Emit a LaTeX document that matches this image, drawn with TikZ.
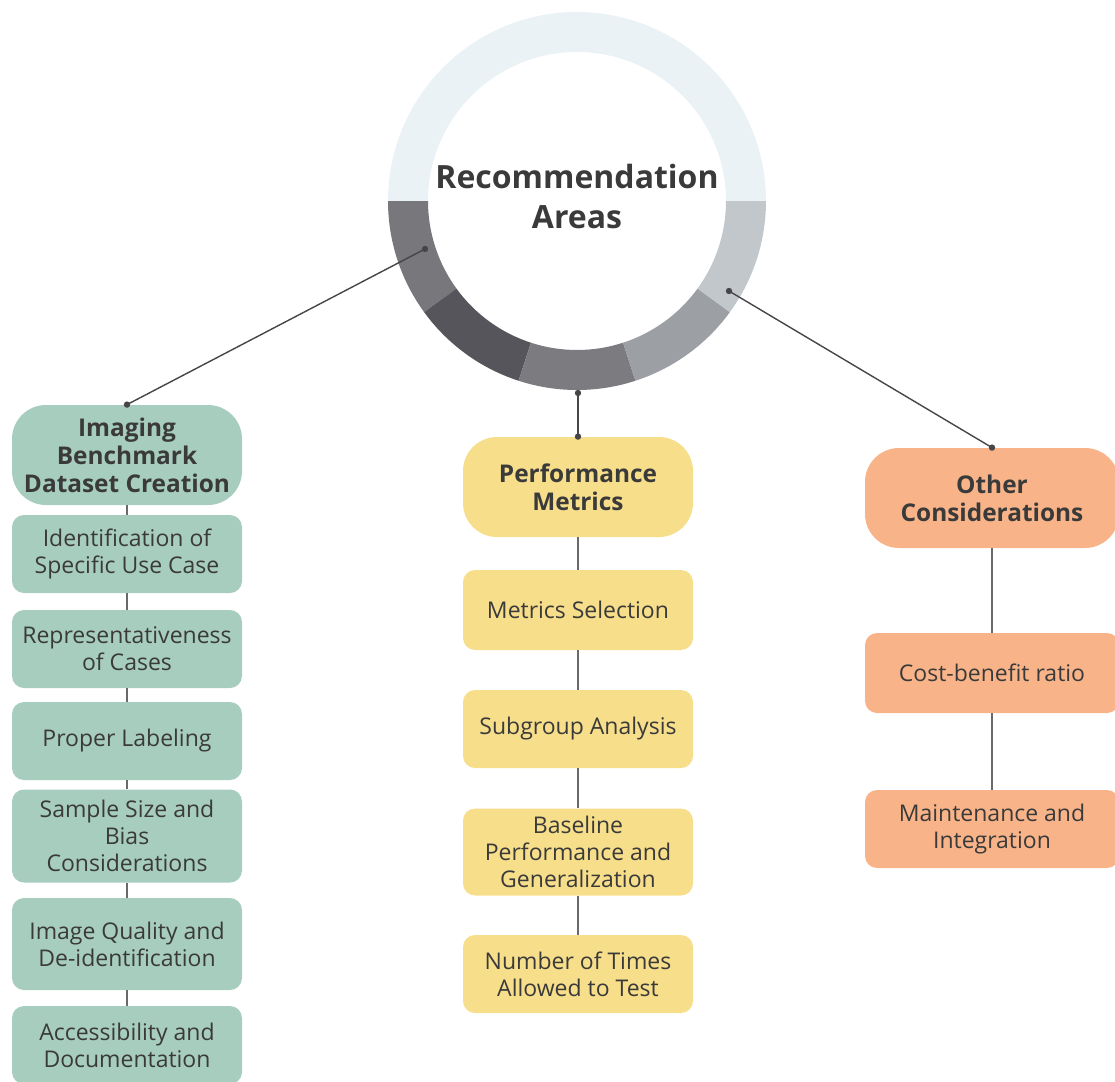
\documentclass[tikz,border=0pt]{standalone}
\usepackage{fontspec}
\setmainfont{Open Sans}
\usetikzlibrary{positioning}
\definecolor{cGreen}{RGB}{167,205,190}
\definecolor{cYellow}{RGB}{247,222,138}
\definecolor{cOrange}{RGB}{248,180,136}
\definecolor{cText}{RGB}{58,58,58}
\definecolor{cLine}{RGB}{70,70,72}
\definecolor{cStem}{RGB}{105,105,108}
\definecolor{ringTop}{RGB}{234,242,245}
\definecolor{ringA}{RGB}{120,120,124}
\definecolor{ringB}{RGB}{85,85,91}
\definecolor{ringC}{RGB}{123,123,128}
\definecolor{ringD}{RGB}{156,159,163}
\definecolor{ringE}{RGB}{194,199,203}
\tikzset{
  head/.style={rounded corners=17pt, minimum width=115pt, minimum height=50pt,
               align=center, text=cText, inner xsep=2pt,
               font=\bfseries\fontsize{12.2}{14}\selectfont},
  item/.style={rounded corners=6pt, minimum width=115pt, minimum height=39pt,
               align=center, text=cText, inner xsep=2pt,
               font=\fontsize{11.5}{13.5}\selectfont},
  title/.style={align=center, text=cText, font=\bfseries\fontsize{16}{20}\selectfont},
  link/.style={draw=cLine, line width=0.7pt},
  stem/.style={draw=cStem, line width=0.9pt},
  dot/.style={fill=cLine},
}

\begin{document}
\begin{tikzpicture}[x=0.5pt, y=-0.5pt]
  \useasboundingbox (0,0) rectangle (1115,1082);
  \clip (0,0) rectangle (1115,1082);

  % ring, top half light, lower half in five grey parts
  \foreach \a/\b/\c in {180/360/ringTop, 144/180/ringA, 108/144/ringB,
                        72/108/ringC, 36/72/ringD, 0/36/ringE}
    \fill[\c] (577,201) ++(\a:189) arc[start angle=\a, end angle=\b, radius=189]
      -- ++(\b:-40) arc[start angle=\b, end angle=\a, radius=149] -- cycle;
  \node[title] (ctr) at (577,196) {Recommendation\\Areas};

  % left branch
  \node[head, fill=cGreen] (hA) at (127,455) {Imaging\\Benchmark\\Dataset Creation};
  \node[item, fill=cGreen] (a1) at (127,554) {Identification of\\Specific Use Case};
  \node[item, fill=cGreen] (a2) at (127,649) {Representativeness\\of Cases};
  \node[item, fill=cGreen] (a3) at (127,741) {Proper Labeling};
  \node[item, fill=cGreen, minimum height=46.5pt] (a4) at (127,836) {Sample Size and\\Bias\\Considerations};
  \node[item, fill=cGreen, minimum height=46pt] (a5) at (127,944) {Image Quality and\\De-identification};
  \node[item, fill=cGreen] (a6) at (127,1045) {Accessibility and\\Documentation};

  % middle branch
  \node[head, fill=cYellow] (hB) at (578,487) {Performance\\Metrics};
  \node[item, fill=cYellow, minimum height=40pt] (b1) at (578,610) {Metrics Selection};
  \node[item, fill=cYellow] (b2) at (578,729) {Subgroup Analysis};
  \node[item, fill=cYellow, minimum height=43.5pt] (b3) at (578,852) {Baseline\\Performance and\\Generalization};
  \node[item, fill=cYellow] (b4) at (578,974) {Number of Times\\Allowed to Test};

  % right branch
  \node[head, fill=cOrange, minimum width=127pt] (hC) at (992,498) {Other\\Considerations};
  \node[item, fill=cOrange, minimum width=127pt, minimum height=40pt] (c1) at (992,673) {Cost-benefit ratio};
  \node[item, fill=cOrange, minimum width=127pt] (c2) at (992,829) {Maintenance and\\Integration};

  % spokes from the ring
  \coordinate (pA) at (425,249);
  \coordinate (pB) at (578,393);
  \coordinate (pC) at (729,291);
  \draw[link] (pA) -- (hA.north);
  \draw[link] (pB) -- (hB.north);
  \draw[link] (pC) -- (hC.north);
  \foreach \p in {pA,pB,pC,hA.north,hB.north,hC.north}
    \fill[dot] (\p) circle[radius=3.2];

  % stems down each column
  \foreach \u/\v in {hA/a1, a1/a2, a2/a3, a3/a4, a4/a5, a5/a6,
                     hB/b1, b1/b2, b2/b3, b3/b4, hC/c1, c1/c2}
    \draw[stem] (\u) -- (\v);
\end{tikzpicture}
\end{document}
